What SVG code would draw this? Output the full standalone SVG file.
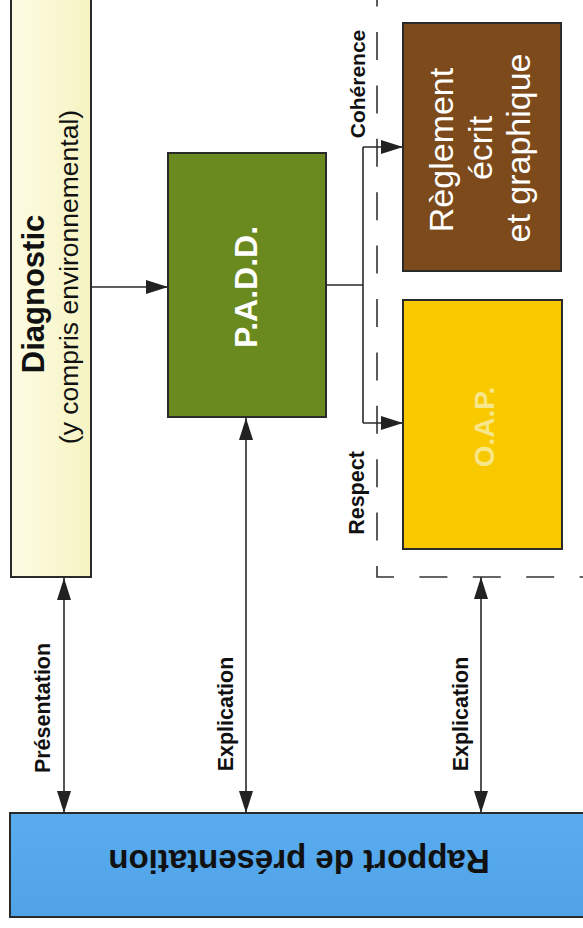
<svg xmlns="http://www.w3.org/2000/svg" width="583" height="928" viewBox="0 0 583 928">
<style>
.box{stroke:#2a2a2a;stroke-width:2}
.ln{fill:none;stroke:#2a2a2a;stroke-width:1.6}
.dash{fill:none;stroke:#333;stroke-width:1.6;stroke-dasharray:28 25.4}
.t{font-family:"Liberation Sans",Arial,sans-serif;fill:#111}
.b{font-weight:bold}
.w{fill:#ffffff}
</style>
<defs>
<marker id="ah" viewBox="0 0 22 14" refX="22" refY="7" markerWidth="22" markerHeight="14" markerUnits="userSpaceOnUse" orient="auto-start-reverse">
<path d="M0,0 L22,7 L0,14 z" fill="#222"/>
</marker>
<linearGradient id="gDiag" x1="0" y1="0" x2="1" y2="0">
<stop offset="0" stop-color="#fdfce4"/>
<stop offset="1" stop-color="#f6f3c2"/>
</linearGradient>
<linearGradient id="gBlue" x1="0" y1="0" x2="0" y2="1">
<stop offset="0" stop-color="#58acef"/>
<stop offset="1" stop-color="#4fa3e6"/>
</linearGradient>
</defs>

<g id="frame-dashed">
<path class="dash" d="M377,-21.4 V577 H600"/>
</g>

<g id="connectors">
<line class="ln" x1="91" y1="287" x2="168" y2="287" marker-end="url(#ah)"/>
<path class="ln" d="M326,285 H363"/>
<path class="ln" d="M363,147 V423"/>
<line class="ln" x1="363" y1="147" x2="403" y2="147" marker-end="url(#ah)"/>
<line class="ln" x1="363" y1="423" x2="403" y2="423" marker-end="url(#ah)"/>
<line class="ln" x1="64" y1="578" x2="64" y2="813" marker-start="url(#ah)" marker-end="url(#ah)"/>
<line class="ln" x1="246" y1="418" x2="246" y2="813" marker-start="url(#ah)" marker-end="url(#ah)"/>
<line class="ln" x1="481" y1="577" x2="481" y2="813" marker-start="url(#ah)" marker-end="url(#ah)"/>
<text class="t b" font-size="21" transform="translate(365,84) rotate(-90)" text-anchor="middle">Cohérence</text>
<text class="t b" font-size="21.5" transform="translate(364,493) rotate(-90)" text-anchor="middle">Respect</text>
<text class="t b" font-size="21.5" transform="translate(50,708) rotate(-90)" text-anchor="middle">Présentation</text>
<text class="t b" font-size="21.5" transform="translate(233,714) rotate(-90)" text-anchor="middle">Explication</text>
<text class="t b" font-size="21.5" transform="translate(468,714) rotate(-90)" text-anchor="middle">Explication</text>
</g>

<g id="diagnostic">
<rect class="box" x="11" y="-5" width="80" height="582" fill="url(#gDiag)"/>
<text class="t b" font-size="31" transform="translate(44,294) rotate(-90)" text-anchor="middle">Diagnostic</text>
<text class="t" font-size="26.5" transform="translate(78,277) rotate(-90)" text-anchor="middle">(y compris environnemental)</text>
</g>

<g id="padd">
<rect class="box" x="168" y="153" width="158" height="264" fill="#6a8a20"/>
<text class="t b w" font-size="32" transform="translate(257,287) rotate(-90)" text-anchor="middle">P.A.D.D.</text>
</g>

<g id="reglement">
<rect class="box" x="403" y="23" width="158" height="248" fill="#7c4a1b"/>
<text class="t w" font-size="34" transform="translate(453,150) rotate(-90)" text-anchor="middle">Règlement</text>
<text class="t w" font-size="34" transform="translate(492,148) rotate(-90)" text-anchor="middle">écrit</text>
<text class="t w" font-size="34" transform="translate(530,148) rotate(-90)" text-anchor="middle">et graphique</text>
</g>

<g id="oap">
<rect class="box" x="403" y="300" width="159" height="249" fill="#f9c900"/>
<text class="t b" font-size="28" style="fill:#f8e68a" transform="translate(494,427) rotate(-90)" text-anchor="middle">O.A.P.</text>
</g>

<g id="rapport">
<rect class="box" x="10" y="813" width="590" height="104" fill="url(#gBlue)"/>
<text class="t b" font-size="33" transform="translate(299,850) rotate(180)" text-anchor="middle">Rapport de présentation</text>
</g>
</svg>
